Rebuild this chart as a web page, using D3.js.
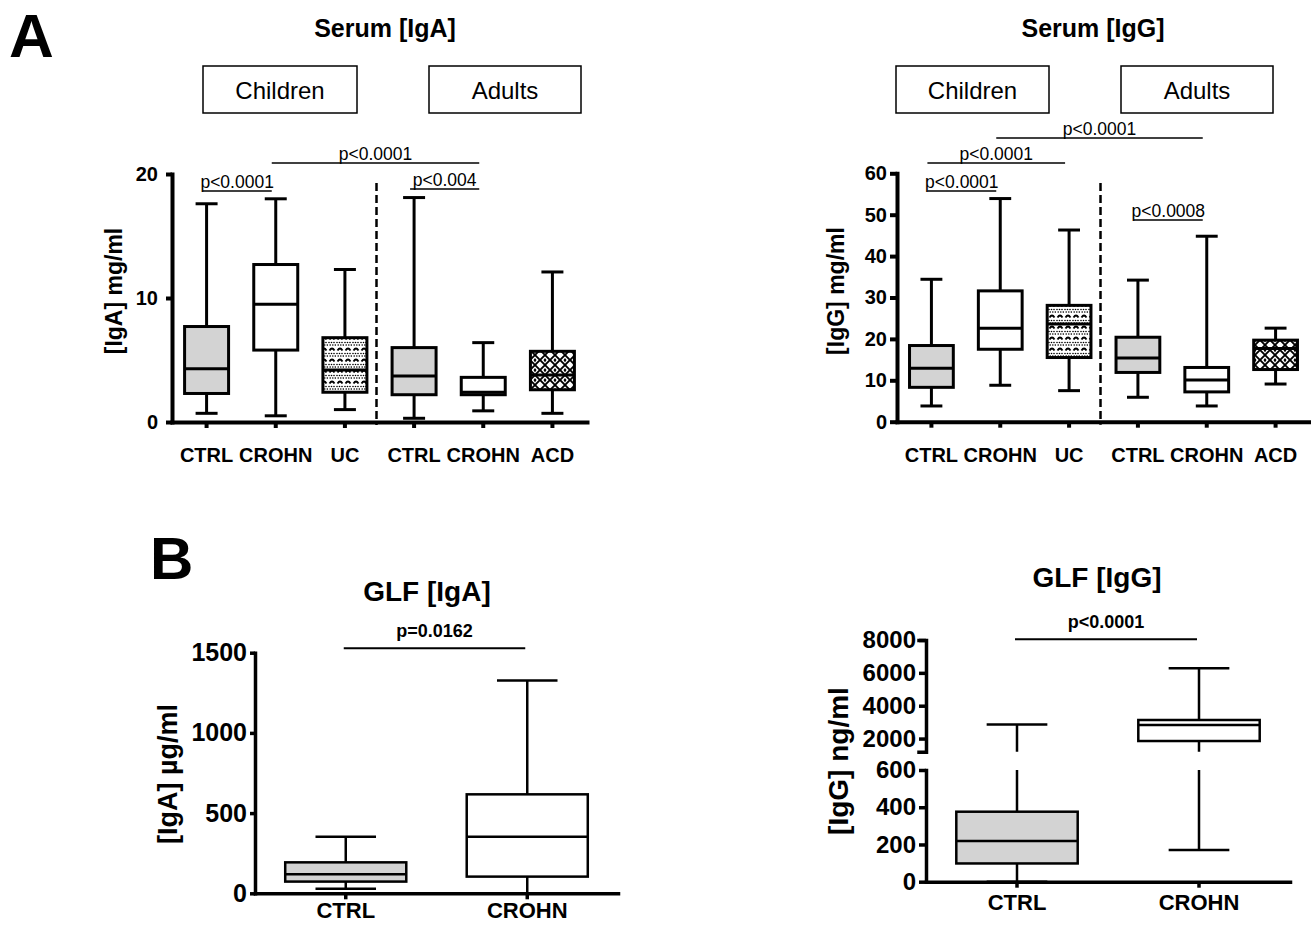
<!DOCTYPE html>
<html>
<head>
<meta charset="utf-8">
<script src="https://cdn.jsdelivr.net/npm/d3@7"></script>
<style>
  body { margin: 0; background: #fff; }
  svg { display: block; font-family: 'Liberation Sans', Arial, Helvetica, sans-serif; }
</style>
</head>
<body>
<div id="chart"></div>
<script>
const width = 1311;
const height = 925;
const font = "'Liberation Sans', Arial, Helvetica, sans-serif";

// Panel A: serum, children vs adults
const serumGroups = ['CTRL', 'CROHN', 'UC', 'CTRL', 'CROHN', 'ACD'];
const serumFills = ['gray', 'white', 'dots', 'gray', 'white', 'cross'];
const ageGroups = ['Children', 'Adults'];

const igaSerumMin = [0.7, 0.5, 1.0, 0.3, 0.9, 0.7];
const igaSerumQ1 = [2.3, 5.8, 2.4, 2.2, 2.2, 2.6];
const igaSerumMedian = [4.3, 9.5, 4.2, 3.7, 2.4, 3.8];
const igaSerumQ3 = [7.7, 12.7, 6.8, 6.0, 3.6, 5.7];
const igaSerumMax = [17.6, 18.0, 12.3, 18.1, 6.4, 12.1];
const igaSerumTicks = [0, 10, 20];
const igaSerumPairs = [[0, 1], [1, 4], [3, 4]];
const igaSerumP = ['p<0.0001', 'p<0.0001', 'p<0.004'];

const iggSerumMin = [3.8, 8.8, 7.5, 5.9, 3.8, 9.1];
const iggSerumQ1 = [8.3, 17.5, 15.5, 11.9, 7.2, 12.6];
const iggSerumMedian = [12.9, 22.6, 23.6, 15.4, 10.1, 17.7];
const iggSerumQ3 = [18.4, 31.6, 28.1, 20.4, 13.1, 19.7];
const iggSerumMax = [34.4, 53.9, 46.3, 34.2, 44.8, 22.6];
const iggSerumTicks = [0, 10, 20, 30, 40, 50, 60];
const iggSerumPairs = [[0, 1], [0, 2], [1, 4], [3, 4]];
const iggSerumP = ['p<0.0001', 'p<0.0001', 'p<0.0001', 'p<0.0008'];

// Panel B: GLF
const glfGroups = ['CTRL', 'CROHN'];
const glfFills = ['gray', 'white'];

const igaGlfMin = [29, 0];
const igaGlfQ1 = [73, 104];
const igaGlfMedian = [118, 353];
const igaGlfQ3 = [193, 617];
const igaGlfMax = [353, 1326];
const igaGlfTicks = [0, 500, 1000, 1500];
const igaGlfP = ['p=0.0162'];

const iggGlfMin = [0, 170];
const iggGlfQ1 = [98, 1850];
const iggGlfMedian = [218, 2820];
const iggGlfQ3 = [376, 3130];
const iggGlfMax = [2850, 6275];
const iggGlfLowTicks = [0, 200, 400, 600];
const iggGlfHighTicks = [2000, 4000, 6000, 8000];
const iggGlfP = ['p<0.0001'];

const svg = d3.select('#chart')
  .append('svg')
  .attr('width', width)
  .attr('height', height);

svg.append('rect').attr('width', width).attr('height', height).attr('fill', '#fff');

const defs = svg.append('defs');

// dotted pattern with rows of small arches (UC)
const pDots = defs.append('pattern')
  .attr('id', 'pDots')
  .attr('patternUnits', 'userSpaceOnUse')
  .attr('width', 8)
  .attr('height', 11);
pDots.append('rect').attr('width', 8).attr('height', 11).attr('fill', '#fff');
[[1, 1.5], [3.5, 1.5], [6, 1.5], [2.2, 4], [4.8, 4], [7.3, 4]].forEach(d => {
  pDots.append('circle').attr('cx', d[0]).attr('cy', d[1]).attr('r', 0.8).attr('fill', '#000');
});
pDots.append('path')
  .attr('d', 'M1.5,9.5 Q4,5.5 6.5,9.5')
  .attr('fill', 'none')
  .attr('stroke', '#000')
  .attr('stroke-width', 1.8);

// cross-hatch zigzag pattern (ACD)
const pCross = defs.append('pattern')
  .attr('id', 'pCross')
  .attr('patternUnits', 'userSpaceOnUse')
  .attr('width', 10)
  .attr('height', 10);
pCross.append('rect').attr('width', 10).attr('height', 10).attr('fill', '#fff');
pCross.append('path')
  .attr('d', 'M0,0 L10,10 M10,0 L0,10')
  .attr('stroke', '#000')
  .attr('stroke-width', 1.9);
pCross.append('path').attr('d', 'M3.5,0 L6.5,0 L5,2.5 Z').attr('fill', '#000');
pCross.append('path').attr('d', 'M3.5,10 L6.5,10 L5,8 Z').attr('fill', '#000');

const fillOf = {
  gray: '#d3d3d3',
  white: '#fff',
  dots: 'url(#pDots)',
  cross: 'url(#pCross)'
};

function styleAxis(g, fontSize, strokeWidth) {
  g.attr('font-family', font).attr('font-size', fontSize);
  g.select('.domain').attr('stroke-width', strokeWidth).attr('stroke-linecap', 'square');
  g.selectAll('.tick line').attr('stroke-width', strokeWidth);
  g.selectAll('.tick text').attr('font-weight', 'bold').attr('fill', '#000');
}

function drawPanel(p) {
  const n = p.groups.length;
  const x = d3.scaleBand().domain(d3.range(n)).range([p.left, p.right]);
  const cx = i => x(i) + x.bandwidth() / 2;

  const y = d3.scaleLinear()
    .domain(p.segments.flatMap(s => s.domain))
    .range(p.segments.flatMap(s => s.range));

  const base = p.segments[0].range[0];

  // clip path so whiskers are cut where the axis is broken
  let clipUrl = null;
  if (p.segments.length > 1) {
    const clip = defs.append('clipPath').attr('id', p.id + '-clip');
    p.segments.forEach((s, k) => {
      const top = k === p.segments.length - 1 ? 0 : s.range[1];
      const bottom = k === 0 ? height : s.range[0];
      clip.append('rect')
        .attr('x', 0)
        .attr('y', top)
        .attr('width', width)
        .attr('height', bottom - top);
    });
    clipUrl = `url(#${p.id}-clip)`;
  }

  const boxes = d3.range(n).map(i => ({
    i,
    min: p.min[i],
    q1: p.q1[i],
    med: p.median[i],
    q3: p.q3[i],
    max: p.max[i],
    fill: p.fills[i]
  }));

  const bw = x.bandwidth() * p.boxRatio;
  const capW = bw * 0.5;

  const plot = svg.append('g').attr('clip-path', clipUrl);

  const box = plot.selectAll('g.box')
    .data(boxes)
    .join('g')
    .attr('class', 'box')
    .attr('stroke', '#000')
    .attr('stroke-width', p.boxStroke);

  box.append('line')
    .attr('x1', d => cx(d.i)).attr('x2', d => cx(d.i))
    .attr('y1', d => y(d.min)).attr('y2', d => y(d.q1));
  box.append('line')
    .attr('x1', d => cx(d.i)).attr('x2', d => cx(d.i))
    .attr('y1', d => y(d.q3)).attr('y2', d => y(d.max));
  box.append('line')
    .attr('x1', d => cx(d.i) - capW / 2).attr('x2', d => cx(d.i) + capW / 2)
    .attr('y1', d => y(d.min)).attr('y2', d => y(d.min));
  box.append('line')
    .attr('x1', d => cx(d.i) - capW / 2).attr('x2', d => cx(d.i) + capW / 2)
    .attr('y1', d => y(d.max)).attr('y2', d => y(d.max));
  box.append('rect')
    .attr('x', d => cx(d.i) - bw / 2)
    .attr('y', d => y(d.q3))
    .attr('width', bw)
    .attr('height', d => y(d.q1) - y(d.q3))
    .attr('fill', d => fillOf[d.fill]);
  box.append('line')
    .attr('x1', d => cx(d.i) - bw / 2).attr('x2', d => cx(d.i) + bw / 2)
    .attr('y1', d => y(d.med)).attr('y2', d => y(d.med));

  // y axis, one piece per segment
  p.segments.forEach(s => {
    const sy = d3.scaleLinear().domain(s.domain).range(s.range);
    const g = svg.append('g')
      .attr('transform', `translate(${p.left}, 0)`)
      .call(d3.axisLeft(sy)
        .tickValues(s.ticks)
        .tickFormat(d3.format('d'))
        .tickSize(p.tickLen)
        .tickSizeOuter(s.outer ? p.tickLen : 0)
        .tickPadding(p.tickPad));
    styleAxis(g, p.tickFont, p.axisStroke);
  });

  // x axis
  const gx = svg.append('g')
    .attr('transform', `translate(0, ${base})`)
    .call(d3.axisBottom(x)
      .tickFormat(i => p.groups[i])
      .tickSize(6)
      .tickSizeOuter(0)
      .tickPadding(p.xPad));
  styleAxis(gx, p.xFont, p.axisStroke);

  // dashed separator between children and adults
  if (p.divider) {
    svg.append('line')
      .attr('x1', x(3) - 3).attr('x2', x(3) - 3)
      .attr('y1', p.dividerTop).attr('y2', base + 3)
      .attr('stroke', '#000')
      .attr('stroke-width', 2.5)
      .attr('stroke-dasharray', '8,4');
  }

  // significance bars
  p.pairs.forEach((pair, k) => {
    const x1 = cx(pair[0]) - p.sigShift;
    const x2 = cx(pair[1]) - p.sigShift;
    const ly = p.sigY[k];
    svg.append('line')
      .attr('x1', x1).attr('x2', x2)
      .attr('y1', ly).attr('y2', ly)
      .attr('stroke', '#000')
      .attr('stroke-width', p.sigStroke);
    svg.append('text')
      .attr('x', (x1 + x2) / 2)
      .attr('y', ly - p.sigGap)
      .attr('text-anchor', 'middle')
      .attr('font-size', p.sigFont)
      .attr('font-weight', p.sigWeight)
      .text(p.pLabels[k]);
  });

  // title
  svg.append('text')
    .attr('x', p.titleX)
    .attr('y', p.titleY)
    .attr('text-anchor', 'middle')
    .attr('font-size', p.titleFont)
    .attr('font-weight', 'bold')
    .text(p.title);

  // y label
  svg.append('text')
    .attr('transform', `translate(${p.labelX}, ${p.labelY}) rotate(-90)`)
    .attr('text-anchor', 'middle')
    .attr('font-size', p.labelFont)
    .attr('font-weight', 'bold')
    .text(p.yLabel);

  // children / adults header boxes
  if (p.headers) {
    p.headers.forEach((h, k) => {
      svg.append('rect')
        .attr('x', h[0])
        .attr('y', 66)
        .attr('width', h[1] - h[0])
        .attr('height', 47)
        .attr('fill', 'none')
        .attr('stroke', '#000')
        .attr('stroke-width', 1.5);
      svg.append('text')
        .attr('x', (h[0] + h[1]) / 2)
        .attr('y', 99)
        .attr('text-anchor', 'middle')
        .attr('font-size', 24)
        .text(ageGroups[k]);
    });
  }
}

const serumStyle = {
  groups: serumGroups,
  fills: serumFills,
  boxRatio: 0.636,
  boxStroke: 3,
  axisStroke: 4,
  tickFont: 20,
  xFont: 20,
  xPad: 20,
  divider: true,
  dividerTop: 183,
  sigShift: 4,
  sigStroke: 1.5,
  sigGap: 3,
  sigFont: 17.5,
  sigWeight: 'normal',
  titleFont: 25,
  titleY: 37,
  labelFont: 23,
  labelY: 291
};

drawPanel(Object.assign({}, serumStyle, {
  id: 'igaSerum',
  left: 172,
  right: 587,
  segments: [{ domain: [0, 20], range: [422, 174], ticks: igaSerumTicks }],
  min: igaSerumMin, q1: igaSerumQ1, median: igaSerumMedian, q3: igaSerumQ3, max: igaSerumMax,
  tickLen: 6,
  tickPad: 8,
  pairs: igaSerumPairs,
  pLabels: igaSerumP,
  sigY: [191, 163, 189],
  title: 'Serum [IgA]',
  titleX: 385,
  yLabel: '[IgA] mg/ml',
  labelX: 122,
  headers: [[203, 357], [429, 581]]
}));

drawPanel(Object.assign({}, serumStyle, {
  id: 'iggSerum',
  left: 897,
  right: 1310,
  segments: [{ domain: [0, 60], range: [421.7, 173.3], ticks: iggSerumTicks }],
  min: iggSerumMin, q1: iggSerumQ1, median: iggSerumMedian, q3: iggSerumQ3, max: iggSerumMax,
  tickLen: 7,
  tickPad: 3,
  pairs: iggSerumPairs,
  pLabels: iggSerumP,
  sigY: [191, 163, 138, 220],
  title: 'Serum [IgG]',
  titleX: 1093,
  yLabel: '[IgG] mg/ml',
  labelX: 844,
  headers: [[896, 1049], [1121, 1273]]
}));

const glfStyle = {
  groups: glfGroups,
  fills: glfFills,
  boxRatio: 0.667,
  boxStroke: 2.5,
  axisStroke: 3.5,
  xFont: 22,
  divider: false,
  sigShift: 2,
  sigStroke: 2,
  sigGap: 11,
  sigFont: 18,
  sigWeight: 'bold',
  titleFont: 28,
  tickPad: 3
};

drawPanel(Object.assign({}, glfStyle, {
  id: 'igaGlf',
  left: 255,
  right: 618,
  segments: [{ domain: [0, 1500], range: [893.3, 652.7], ticks: igaGlfTicks }],
  min: igaGlfMin, q1: igaGlfQ1, median: igaGlfMedian, q3: igaGlfQ3, max: igaGlfMax,
  tickFont: 25,
  tickLen: 5,
  xPad: 3,
  pairs: [[0, 1]],
  pLabels: igaGlfP,
  sigY: [648.3],
  title: 'GLF [IgA]',
  titleX: 427,
  titleY: 601,
  yLabel: '[IgA] µg/ml',
  labelX: 177,
  labelY: 774,
  labelFont: 27
}));

drawPanel(Object.assign({}, glfStyle, {
  id: 'iggGlf',
  left: 926,
  right: 1290,
  segments: [
    { domain: [0, 600], range: [881.7, 770], ticks: iggGlfLowTicks },
    { domain: [1200, 8000], range: [751.7, 640], ticks: iggGlfHighTicks, outer: true }
  ],
  min: iggGlfMin, q1: iggGlfQ1, median: iggGlfMedian, q3: iggGlfQ3, max: iggGlfMax,
  tickFont: 24,
  tickLen: 7,
  xPad: 7,
  pairs: [[0, 1]],
  pLabels: iggGlfP,
  sigY: [639.3],
  title: 'GLF [IgG]',
  titleX: 1097,
  titleY: 587,
  yLabel: '[IgG] ng/ml',
  labelX: 848,
  labelY: 761,
  labelFont: 28
}));

// panel letters
svg.append('text')
  .attr('x', 9)
  .attr('y', 57)
  .attr('font-size', 62)
  .attr('font-weight', 'bold')
  .text('A');

svg.append('text')
  .attr('x', 150)
  .attr('y', 579)
  .attr('font-size', 60)
  .attr('font-weight', 'bold')
  .text('B');
</script>
</body>
</html>
